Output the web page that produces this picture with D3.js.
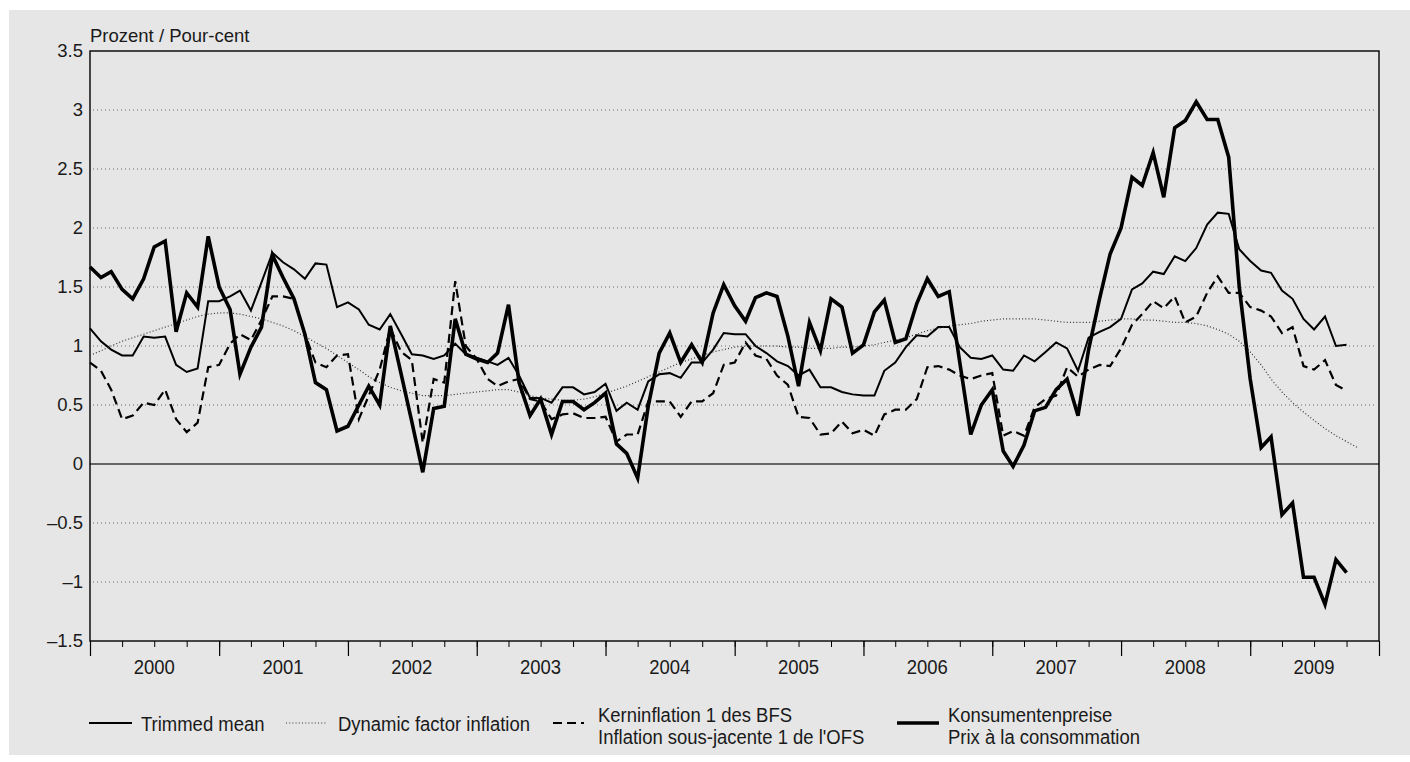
<!DOCTYPE html>
<html>
<head>
<meta charset="utf-8">
<script src="https://cdn.jsdelivr.net/npm/d3@7"></script>
<style>
  body { margin: 0; background: #fff; }
  svg { display: block; }
</style>
</head>
<body>
<div id="canvas"></div>
<script>
/*
 * Data: monthly values, Jan 2000 onwards
 *
 */
const startYear = 2000;
const years = ['2000', '2001', '2002', '2003', '2004', '2005', '2006', '2007', '2008', '2009'];
const yTicks = [-1.5, -1, -0.5, 0, 0.5, 1, 1.5, 2, 2.5, 3, 3.5];

const trimmedMean = [
  1.15, 1.04, 0.97, 0.92, 0.92, 1.08, 1.07, 1.08, 0.84, 0.78, 0.81, 1.38,
  1.38, 1.42, 1.47, 1.30, 1.54, 1.79, 1.71, 1.65, 1.57, 1.70, 1.69, 1.33,
  1.37, 1.31, 1.18, 1.14, 1.27, 1.10, 0.93, 0.92, 0.89, 0.92, 1.02, 0.93,
  0.90, 0.87, 0.84, 0.90, 0.75, 0.56, 0.56, 0.52, 0.65, 0.65, 0.59, 0.61,
  0.68, 0.45, 0.52, 0.46, 0.70, 0.76, 0.77, 0.73, 0.86, 0.86, 0.97, 1.11,
  1.10, 1.10, 1.00, 0.94, 0.87, 0.83, 0.75, 0.80, 0.65, 0.65, 0.61, 0.59,
  0.58, 0.58, 0.79, 0.86, 0.99, 1.09, 1.08, 1.16, 1.16, 0.99, 0.90, 0.89,
  0.92, 0.80, 0.79, 0.92, 0.87, 0.95, 1.03, 0.98, 0.79, 1.07, 1.12, 1.16,
  1.23, 1.48, 1.53, 1.63, 1.61, 1.76, 1.72, 1.83, 2.03, 2.13, 2.12, 1.82,
  1.72, 1.64, 1.62, 1.47, 1.40, 1.23, 1.14, 1.25, 1.00, 1.01
];

const dynamicFactor = [
  0.92, 0.96, 1.00, 1.04, 1.07, 1.10, 1.13, 1.16, 1.19, 1.22, 1.25, 1.27,
  1.28, 1.28, 1.27, 1.25, 1.23, 1.20, 1.17, 1.13, 1.08, 1.03, 0.98, 0.92,
  0.86, 0.80, 0.74, 0.69, 0.65, 0.62, 0.60, 0.58, 0.58, 0.58, 0.59, 0.60,
  0.61, 0.62, 0.63, 0.63, 0.61, 0.58, 0.56, 0.55, 0.54, 0.54, 0.55, 0.57,
  0.60, 0.63, 0.66, 0.70, 0.74, 0.78, 0.82, 0.86, 0.89, 0.92, 0.95, 0.97,
  0.99, 1.00, 1.00, 1.00, 1.00, 0.99, 0.99, 0.98, 0.98, 0.98, 0.99, 0.99,
  1.00, 1.01, 1.03, 1.05, 1.07, 1.10, 1.13, 1.15, 1.17, 1.18, 1.19, 1.21,
  1.22, 1.23, 1.23, 1.23, 1.23, 1.22, 1.21, 1.20, 1.20, 1.20, 1.21, 1.22,
  1.23, 1.23, 1.22, 1.22, 1.21, 1.20, 1.20, 1.19, 1.17, 1.14, 1.10, 1.04,
  0.95, 0.84, 0.72, 0.61, 0.52, 0.44, 0.37, 0.30, 0.24, 0.19, 0.14
];

const coreInflation = [
  0.86, 0.79, 0.63, 0.38, 0.41, 0.52, 0.50, 0.63, 0.38, 0.27, 0.35, 0.82,
  0.84, 1.02, 1.10, 1.05, 1.22, 1.42, 1.42, 1.40, 1.10, 0.86, 0.82, 0.92,
  0.93, 0.38, 0.58, 0.80, 1.15, 0.95, 0.88, 0.18, 0.72, 0.69, 1.55, 1.00,
  0.89, 0.72, 0.66, 0.70, 0.72, 0.55, 0.53, 0.38, 0.42, 0.43, 0.39, 0.39,
  0.40, 0.19, 0.25, 0.25, 0.53, 0.53, 0.53, 0.40, 0.53, 0.53, 0.60, 0.84,
  0.86, 1.03, 0.92, 0.89, 0.75, 0.67, 0.40, 0.39, 0.25, 0.26, 0.36, 0.26,
  0.29, 0.24, 0.42, 0.46, 0.46, 0.55, 0.82, 0.83, 0.80, 0.75, 0.72, 0.75,
  0.77, 0.24, 0.28, 0.24, 0.48, 0.55, 0.58, 0.82, 0.74, 0.80, 0.84, 0.83,
  0.98, 1.18, 1.27, 1.38, 1.32, 1.42, 1.20, 1.25, 1.45, 1.59, 1.45, 1.45,
  1.33, 1.30, 1.25, 1.11, 1.16, 0.83, 0.80, 0.88, 0.67, 0.62
];

const consumerPrices = [
  1.67, 1.58, 1.63, 1.48, 1.40, 1.57, 1.84, 1.89, 1.12, 1.45, 1.33, 1.93,
  1.50, 1.31, 0.76, 0.99, 1.16, 1.77, 1.58, 1.40, 1.10, 0.69, 0.63, 0.28,
  0.32, 0.50, 0.66, 0.50, 1.17, 0.76, 0.36, -0.07, 0.47, 0.49, 1.23, 0.93,
  0.89, 0.86, 0.94, 1.35, 0.69, 0.41, 0.55, 0.25, 0.53, 0.53, 0.46, 0.52,
  0.60, 0.17, 0.09, -0.12, 0.49, 0.94, 1.11, 0.86, 1.01, 0.86, 1.28, 1.52,
  1.34, 1.21, 1.41, 1.45, 1.42, 1.08, 0.66, 1.20, 0.96, 1.40, 1.33, 0.94,
  1.01, 1.29, 1.39, 1.03, 1.06, 1.36, 1.57, 1.42, 1.46, 0.86, 0.25, 0.50,
  0.63, 0.11, -0.02, 0.16, 0.45, 0.48, 0.63, 0.72, 0.41, 0.97, 1.40, 1.78,
  2.00, 2.43, 2.36, 2.64, 2.26, 2.85, 2.91, 3.07, 2.92, 2.92, 2.60, 1.50,
  0.72, 0.14, 0.23, -0.43, -0.33, -0.96, -0.96, -1.19, -0.81, -0.92
];

const series = [
  { key: 'trimmed', values: trimmedMean, width: 2, dash: null, label: ['Trimmed mean'] },
  { key: 'dynamic', values: dynamicFactor, width: 1.2, dash: '1,2.2', label: ['Dynamic factor inflation'] },
  { key: 'core', values: coreInflation, width: 2.2, dash: '9,5', label: ['Kerninflation 1 des BFS', "Inflation sous-jacente 1 de l'OFS"] },
  { key: 'cpi', values: consumerPrices, width: 3.6, dash: null, label: ['Konsumentenpreise', 'Prix à la consommation'] }
];

/*
 * Sizes
 *
 */
const svgWidth = 1410,
  svgHeight = 762;
const plot = { left: 90, right: 1379, top: 51, bottom: 641 };
const font = "'Liberation Sans', Arial, sans-serif";
const squeeze = 0.88; // the original uses a condensed face

const svg = d3.select('#canvas').append('svg')
  .attr('width', svgWidth)
  .attr('height', svgHeight);

// grey panel
svg.append('rect')
  .attr('x', 9)
  .attr('y', 10)
  .attr('width', svgWidth - 9)
  .attr('height', 745)
  .attr('fill', '#e6e6e6');

/*
 * Scales
 *
 */
const monthDate = (i) => new Date(startYear, i, 1);

const xScale = d3.scaleTime()
  .domain([new Date(startYear, 0, 1), new Date(startYear + years.length, 0, 1)])
  .range([plot.left, plot.right]);

const yScale = d3.scaleLinear()
  .domain([d3.min(yTicks), d3.max(yTicks)])
  .range([plot.bottom, plot.top]);

/*
 * Grid, zero line and frame
 *
 */
svg.append('g')
  .selectAll('line')
  .data(yTicks.filter((d) => d !== 0 && d !== d3.min(yTicks) && d !== d3.max(yTicks)))
  .enter()
  .append('line')
  .attr('x1', plot.left + 3)
  .attr('x2', plot.right - 3)
  .attr('y1', (d) => yScale(d))
  .attr('y2', (d) => yScale(d))
  .attr('stroke', '#6a6a6a')
  .attr('stroke-width', 1)
  .attr('stroke-dasharray', '1,3');

svg.append('line')
  .attr('x1', plot.left)
  .attr('x2', plot.right)
  .attr('y1', yScale(0))
  .attr('y2', yScale(0))
  .attr('stroke', '#3a3a3a')
  .attr('stroke-width', 1.4);

svg.append('rect')
  .attr('x', plot.left)
  .attr('y', plot.top)
  .attr('width', plot.right - plot.left)
  .attr('height', plot.bottom - plot.top)
  .attr('fill', 'none')
  .attr('stroke', '#000')
  .attr('stroke-width', 1.4);

/*
 * Axes
 *
 */
const leftAxis = svg.append('g')
  .attr('transform', `translate(${plot.left},0)`)
  .call(d3.axisLeft(yScale)
    .tickValues(yTicks)
    .tickSize(0)
    .tickPadding(7)
    .tickFormat((d) => String(d).replace('-', '\u2013')));
leftAxis.select('.domain').remove();
leftAxis.selectAll('text')
  .style('font-family', font)
  .style('font-size', '18.5px')
  .attr('fill', '#1a1a1a');

// quarter ticks
const minorAxis = svg.append('g')
  .attr('transform', `translate(0,${plot.bottom})`)
  .call(d3.axisBottom(xScale)
    .ticks(d3.timeMonth.every(3))
    .tickSize(6)
    .tickFormat(''));
minorAxis.select('.domain').remove();
minorAxis.selectAll('line').attr('stroke', '#000').attr('stroke-width', 1);

// year ticks
const majorAxis = svg.append('g')
  .attr('transform', `translate(0,${plot.bottom})`)
  .call(d3.axisBottom(xScale)
    .ticks(d3.timeYear.every(1))
    .tickSize(15)
    .tickFormat(''));
majorAxis.select('.domain').remove();
majorAxis.selectAll('line').attr('stroke', '#000').attr('stroke-width', 1.2);

svg.append('g')
  .selectAll('text')
  .data(years)
  .enter()
  .append('text')
  .attr('transform', (d) => `translate(${xScale(new Date(+d, 6, 1))},674) scale(${squeeze},1)`)
  .attr('text-anchor', 'middle')
  .style('font-family', font)
  .style('font-size', '21px')
  .attr('fill', '#1a1a1a')
  .text((d) => d);

svg.append('text')
  .attr('x', plot.left)
  .attr('y', 42)
  .style('font-family', font)
  .style('font-size', '18.5px')
  .attr('fill', '#1a1a1a')
  .text('Prozent / Pour-cent');

/*
 * Lines
 *
 */
const line = d3.line()
  .x((d, i) => xScale(monthDate(i)))
  .y((d) => yScale(d));

svg.append('g')
  .selectAll('path')
  .data(series)
  .enter()
  .append('path')
  .attr('d', (d) => line(d.values))
  .attr('fill', 'none')
  .attr('stroke', (d) => d.key === 'dynamic' ? '#333' : '#000')
  .attr('stroke-width', (d) => d.width)
  .attr('stroke-dasharray', (d) => d.dash)
  .attr('stroke-linejoin', 'miter')
  .attr('stroke-miterlimit', 4);

/*
 * Legend
 *
 */
const legendY = 723;
const legendItems = [
  { x: 89, len: 43, tx: 52 },
  { x: 286, len: 40, tx: 52 },
  { x: 553, len: 31, tx: 45 },
  { x: 897, len: 42, tx: 51 }
];
const legend = svg.append('g');

series.forEach((s, k) => {
  const pos = legendItems[k];
  const g = legend.append('g').attr('transform', `translate(${pos.x},${legendY})`);
  g.append('line')
    .attr('x1', 0)
    .attr('x2', pos.len)
    .attr('y1', 0)
    .attr('y2', 0)
    .attr('stroke', s.key === 'dynamic' ? '#333' : '#000')
    .attr('stroke-width', s.width)
    .attr('stroke-dasharray', s.dash);
  const text = g.append('text')
    .attr('transform', `translate(${pos.tx},0) scale(${squeeze},1)`)
    .style('font-family', font)
    .style('font-size', '21px')
    .attr('fill', '#1a1a1a');
  s.label.forEach((t, j) => {
    text.append('tspan')
      .attr('x', 0)
      .attr('y', s.label.length === 1 ? 7.5 : (j === 0 ? -1 : 21))
      .text(t);
  });
});
</script>
</body>
</html>
